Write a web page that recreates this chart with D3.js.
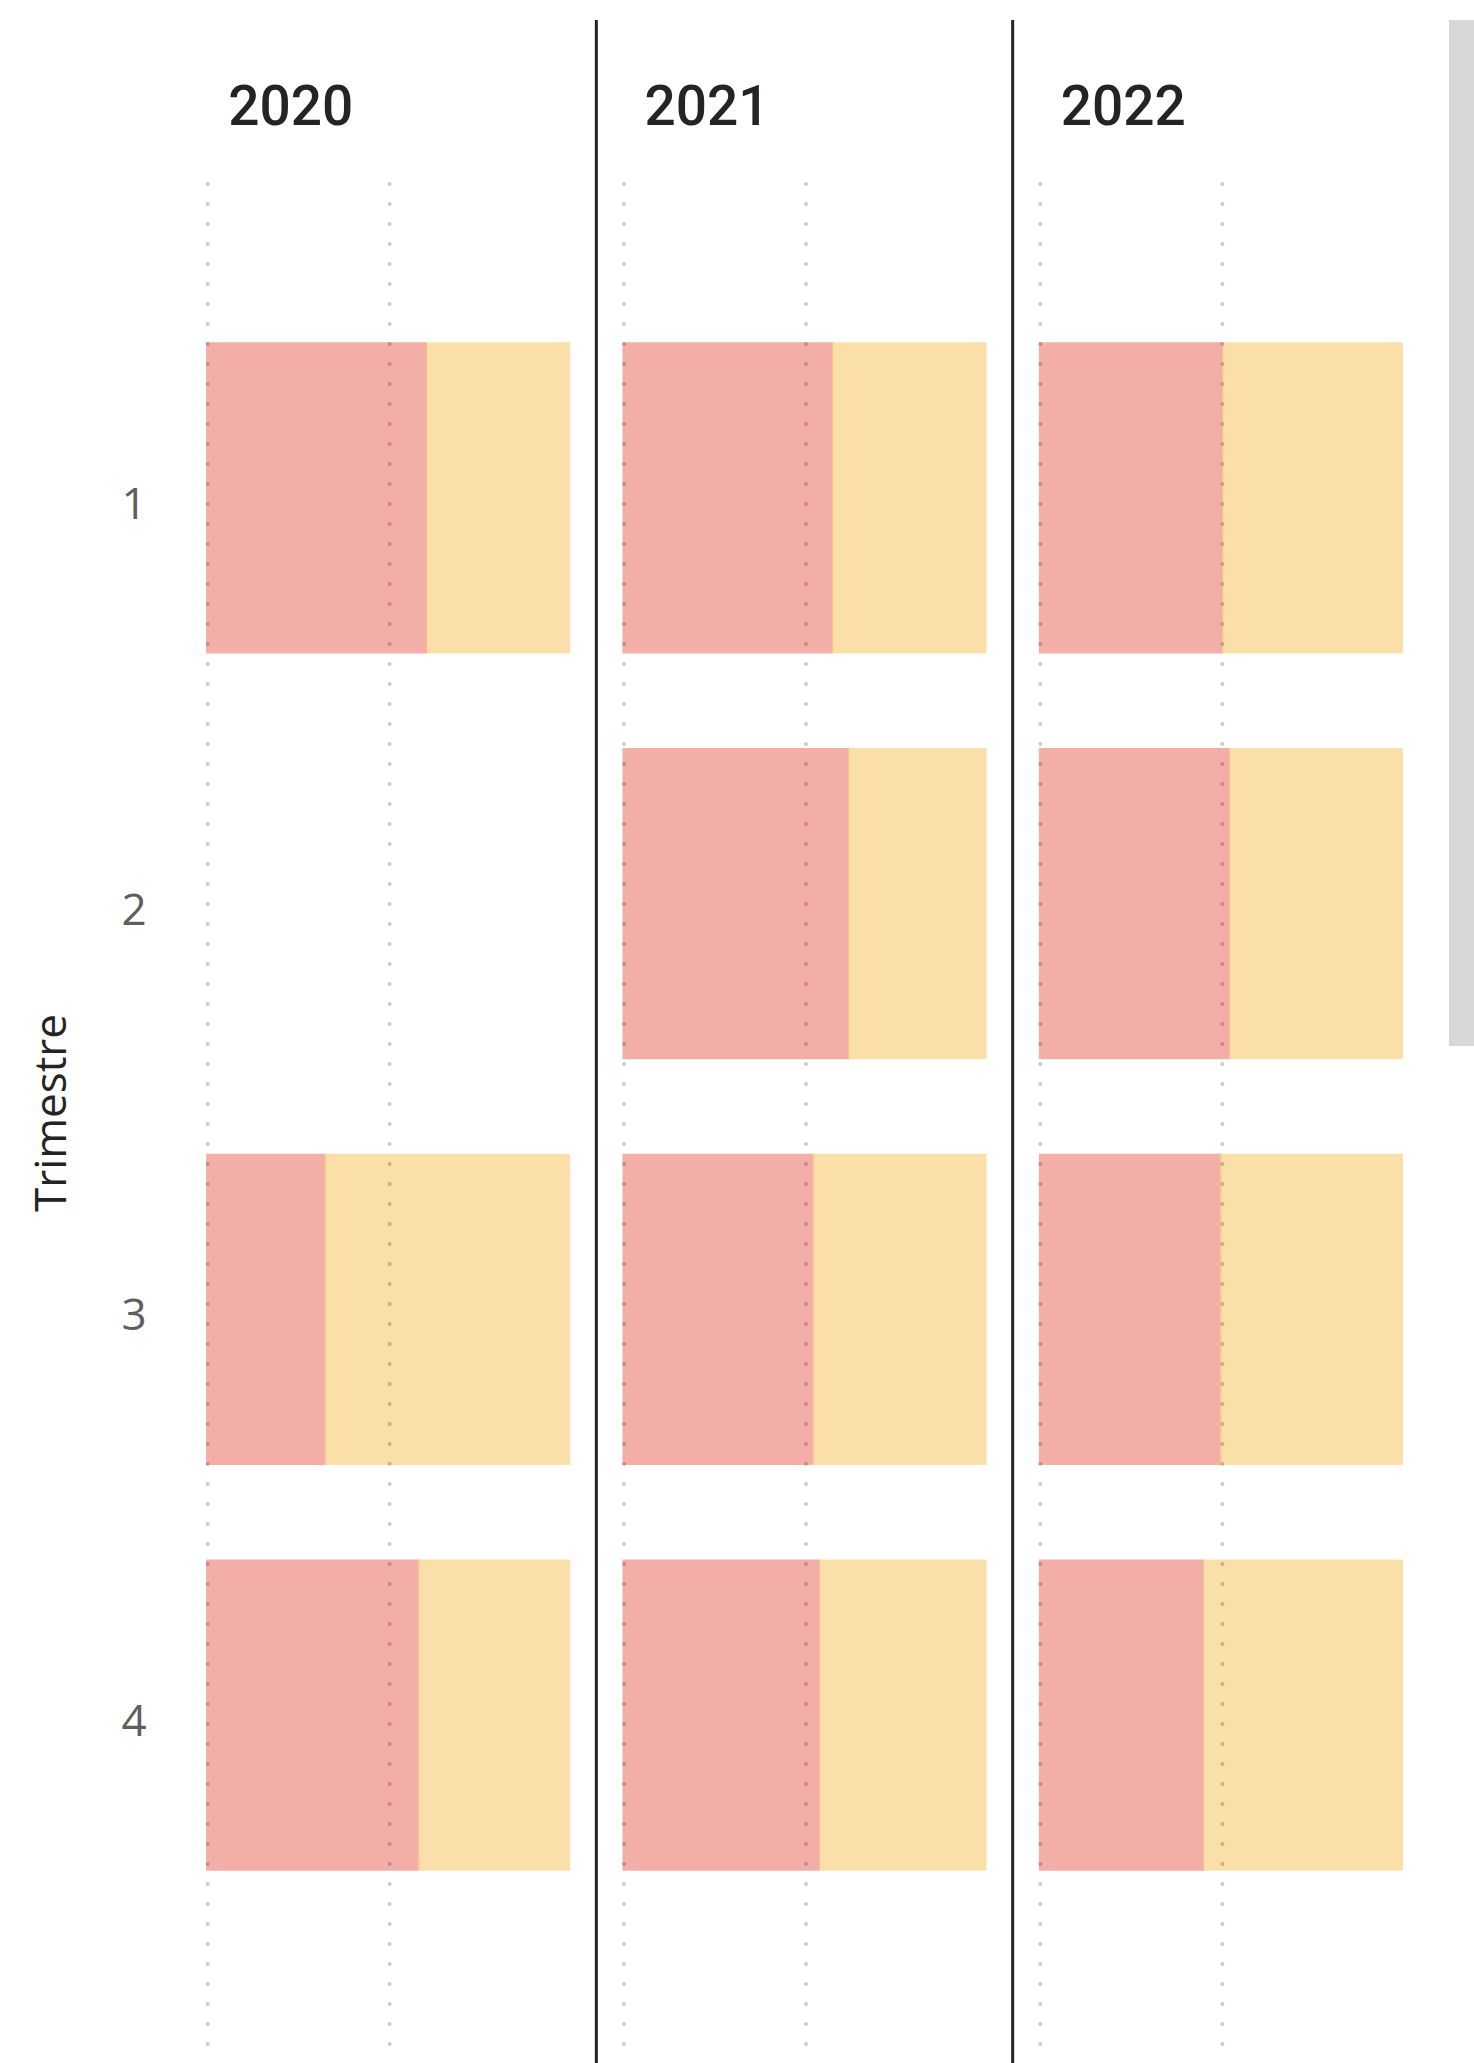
<!DOCTYPE html>
<html>
<head>
<meta charset="utf-8">
<script src="https://cdn.jsdelivr.net/npm/d3@7"></script>
<style>
  body { margin: 0; background: #fff; }
</style>
</head>
<body>
<div id="viz"></div>
<script>
// data: share of first series per year / quarter (100% stacked)
let years = ['2020', '2021', '2022']
let quarters = ['1', '2', '3', '4']
// null = no data for that quarter
let shareA = {
	'2020': [0.604, null, 0.326, 0.583],
	'2021': [0.576, 0.620, 0.523, 0.540],
	'2022': [0.504, 0.523, 0.499, 0.451]
}
let gridTicks = [0, 0.5]
let colors = ['#f2aea7', '#fae0a8']

let width = 1474, height = 2063

let svg = d3.select('#viz')
			.append('svg')
			.attr('width', width)
			.attr('height', height)

//scales
let xPanel = d3.scaleBand()
				.domain(years)
				.range([180, 1429])
				.paddingInner(0.1256)
				.paddingOuter(0.0628)

let xInner = d3.scaleLinear()
				.domain([0, 1])
				.range([0, xPanel.bandwidth()])

let y = d3.scaleBand()
			.domain(quarters)
			.range([295, 1918])
			.paddingInner(0.233)
			.paddingOuter(0.1165)

//scrollbar stub on the right
svg.append('rect')
	.attr('x', 1449)
	.attr('y', 20)
	.attr('width', 25)
	.attr('height', 1026)
	.attr('fill', '#d9d8d6')

//panels
let panels = svg.selectAll('g.panel')
				.data(years)
				.enter()
				.append('g')
				.attr('class', 'panel')
				.attr('transform', d => `translate(${xPanel(d)},0)`)

panels.append('text')
	.attr('x', 22)
	.attr('y', 125)
	.text(d => d)
	.style('font-family', 'Roboto, sans-serif')
	.style('font-weight', 500)
	.style('font-size', '55px')
	.attr('fill', '#252423')

//bars
panels.each(function (year) {
	let g = d3.select(this)
	let rows = quarters.map((q, i) => ({ q: q, a: shareA[year][i] }))
						.filter(r => r.a !== null)

	g.selectAll('rect.a')
		.data(rows)
		.enter()
		.append('rect')
		.attr('class', 'a')
		.attr('x', xInner(0))
		.attr('y', d => y(d.q))
		.attr('width', d => xInner(d.a) - xInner(0))
		.attr('height', y.bandwidth())
		.attr('fill', colors[0])

	g.selectAll('rect.b')
		.data(rows)
		.enter()
		.append('rect')
		.attr('class', 'b')
		.attr('x', d => xInner(d.a))
		.attr('y', d => y(d.q))
		.attr('width', d => xInner(1) - xInner(d.a))
		.attr('height', y.bandwidth())
		.attr('fill', colors[1])

	// thin seam between the two segments
	g.selectAll('line.seam')
		.data(rows)
		.enter()
		.append('line')
		.attr('class', 'seam')
		.attr('x1', d => xInner(d.a) + 0.5)
		.attr('x2', d => xInner(d.a) + 0.5)
		.attr('y1', d => y(d.q))
		.attr('y2', d => y(d.q) + y.bandwidth())
		.attr('stroke', '#f6bd85')
		.attr('stroke-width', 1)

	//dotted gridlines on top
	g.selectAll('line.grid')
		.data(gridTicks)
		.enter()
		.append('line')
		.attr('class', 'grid')
		.attr('x1', d => xInner(d) + 1.5)
		.attr('x2', d => xInner(d) + 1.5)
		.attr('y1', 184)
		.attr('y2', 2046)
		.attr('stroke', 'rgba(0,0,0,0.2)')
		.attr('stroke-width', 4)
		.attr('stroke-linecap', 'round')
		.attr('stroke-dasharray', '0,20')
})

//dividers between years
svg.selectAll('line.divider')
	.data(years.slice(1))
	.enter()
	.append('line')
	.attr('class', 'divider')
	.attr('x1', d => xPanel(d) - xPanel.step() * xPanel.paddingInner() / 2)
	.attr('x2', d => xPanel(d) - xPanel.step() * xPanel.paddingInner() / 2)
	.attr('y1', 20)
	.attr('y2', height)
	.attr('stroke', '#252423')
	.attr('stroke-width', 3)

//y axis labels
svg.selectAll('text.ylab')
	.data(quarters)
	.enter()
	.append('text')
	.attr('class', 'ylab')
	.attr('x', 134)
	.attr('y', d => y(d) + y.bandwidth() / 2 + 21)
	.attr('text-anchor', 'middle')
	.text(d => d)
	.style('font-family', '"Segoe UI", "Open Sans", sans-serif')
	.style('font-size', '44px')
	.attr('fill', '#605e5c')

svg.append('text')
	.attr('transform', 'translate(66,1113) rotate(-90)')
	.attr('text-anchor', 'middle')
	.text('Trimestre')
	.style('font-family', '"Segoe UI", "Open Sans", sans-serif')
	.style('font-size', '44px')
	.attr('fill', '#252423')
</script>
</body>
</html>
